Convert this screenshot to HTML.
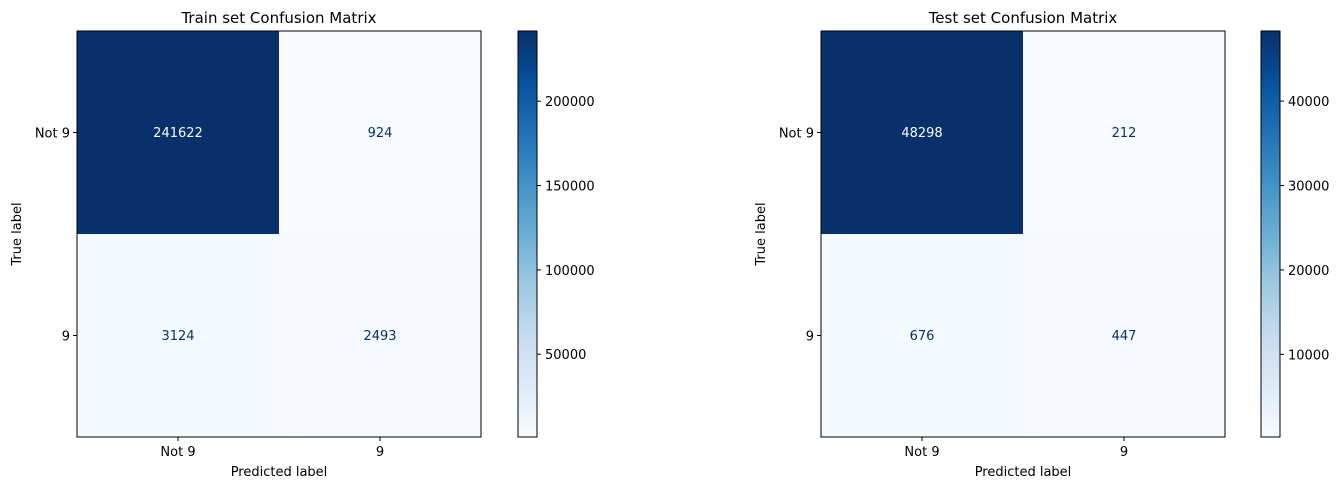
<!DOCTYPE html>
<html><head><meta charset="utf-8"><style>
body{margin:0;background:#fff;}
svg text{font-family:"DejaVu Sans","Liberation Sans",sans-serif;}
</style></head><body>
<svg id="c" width="1343" height="490" xmlns="http://www.w3.org/2000/svg"></svg>
<script>
const classLabels = ["Not 9", "9"];
const trainValues = [[241622, 924],[3124, 2493]];
const testValues = [[48298, 212],[676, 447]];
const trainTicks = [50000, 100000, 150000, 200000];
const testTicks = [10000, 20000, 30000, 40000];
const titles = ["Train set Confusion Matrix", "Test set Confusion Matrix"];

const blues = ["#f7fbff","#deebf7","#c6dbef","#9ecae1","#6baed6","#4292c6","#2171b5","#08519c","#08306b"];
function hex(h){return [1,3,5].map(i=>parseInt(h.substr(i,2),16));}
function cmap(t){t=Math.max(0,Math.min(1,t));const p=t*(blues.length-1);const i=Math.min(Math.floor(p),blues.length-2);const f=p-i;const a=hex(blues[i]),b=hex(blues[i+1]);return "rgb("+a.map((v,k)=>Math.round(v+(b[k]-v)*f)).join(",")+")";}
const svg=document.getElementById('c');
const NS="http://www.w3.org/2000/svg";
function el(tag,attrs,parent){const e=document.createElementNS(NS,tag);for(const k in attrs)e.setAttribute(k,attrs[k]);(parent||svg).appendChild(e);return e;}
function txt(s,attrs,parent){const e=el('text',attrs,parent);e.textContent=s;return e;}

function panel(idx,vals,ticks,ax0,cb0){
  const top=31,bot=437,W=404,H=bot-top;
  const flat=vals.flat();const mn=Math.min(...flat),mx=Math.max(...flat);
  const g=el('g',{});
  
  
  const n=classLabels.length;const cw=W/n,ch=H/n;
  const xs=c=>ax0+cw*(c+0.5), ys=r=>top+ch*(r+0.5);
  const thr=(mn+mx)/2;
  for(let r=0;r<n;r++)for(let c=0;c<n;c++){
    const v=vals[r][c];
    const rc=el('rect',{x:ax0+cw*c,y:top+ch*r,width:cw+0.5,height:ch+0.5,fill:cmap((v-mn)/(mx-mn))},g);
    
    
    const t=txt(String(v),{x:xs(c),y:ys(r)+4.5,'text-anchor':'middle','font-size':'13',fill:v>thr?'#f7fbff':'#08306b'},g);
    
    
  }
  const fr=el('rect',{x:ax0,y:top,width:W,height:H,fill:'none',stroke:'#000','stroke-width':1},g);
  
  for(let i=0;i<n;i++){
    el('line',{x1:xs(i),x2:xs(i),y1:bot,y2:bot+4,stroke:'#000'},g);
    const xt=txt(classLabels[i],{x:xs(i),y:bot+19,'text-anchor':'middle','font-size':'13'},g);
    
    el('line',{x1:ax0-4,x2:ax0,y1:ys(i),y2:ys(i),stroke:'#000'},g);
    const yt=txt(classLabels[i],{x:ax0-7,y:ys(i)+5,'text-anchor':'end','font-size':'13'},g);
    
  }
  const tt=txt(titles[idx],{x:ax0+W/2,y:top-8,'text-anchor':'middle','font-size':'15'},g);
  
  const xl=txt('Predicted label',{x:ax0+W/2,y:476,'text-anchor':'middle','font-size':'13'},g);
  
  const yl=txt('True label',{x:0,y:0,'text-anchor':'middle','font-size':'13',transform:'translate('+(ax0-56)+','+((top+bot)/2)+') rotate(-90)'},g);
  
  const cbW=19;const steps=200;
  const cy=v=>bot-(v-mn)/(mx-mn)*H;
  for(let i=0;i<steps;i++){
    el('rect',{x:cb0,y:top+H*i/steps,width:cbW,height:H/steps+0.6,fill:cmap(1-(i+0.5)/steps)},g);
  }
  const cbf=el('rect',{x:cb0,y:top,width:cbW,height:H,fill:'none',stroke:'#000'},g);
  
  ticks.forEach(t=>{
    el('line',{x1:cb0+cbW,x2:cb0+cbW+4,y1:cy(t),y2:cy(t),stroke:'#000'},g);
    const l=txt(String(t),{x:cb0+cbW+8,y:cy(t)+5,'font-size':'13'},g);
    
  });
}
panel(0,trainValues,trainTicks,77,518);
panel(1,testValues,testTicks,821,1261);
</script>
</body></html>
